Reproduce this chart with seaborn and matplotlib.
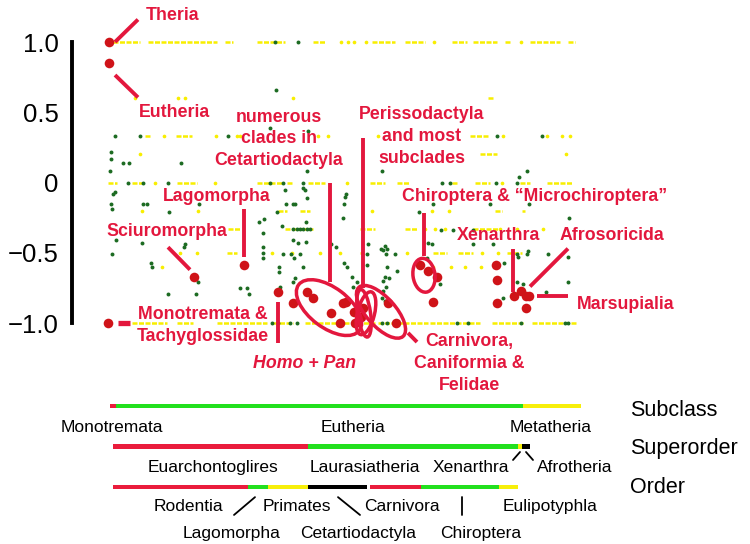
import matplotlib
matplotlib.use('Agg')
import matplotlib.pyplot as plt
import matplotlib.transforms as mtransforms
from matplotlib.patches import Ellipse
import seaborn as sns

################################################################################
# data: x = node rank, y = correlation

yellow_levels = [1.0, 0.6, 0.33, 0.2, 0.0, -0.2, -0.33, -0.5, -0.6, -1.0]

# dense runs of yellow nodes per level (start rank, end rank)
runs_p100 = [(5, 32), (40, 109), (117, 125), (149, 177), (205, 217), (264, 287),
             (297, 317), (344, 359), (365, 389), (397, 402), (422, 452), (460, 467)]
runs_p060 = [(380, 386)]
runs_p033 = [(37, 42), (68, 84), (362, 380)]
runs_p020 = [(372, 389)]
runs_000 = [(0, 9), (24, 35), (69, 89), (149, 175), (179, 185), (200, 217),
            (262, 277), (289, 302), (344, 350), (367, 382), (412, 422), (439, 464)]
runs_m020 = [(170, 179), (192, 202), (387, 394), (414, 417)]
runs_m033 = [(120, 132), (177, 205), (252, 267), (297, 310), (365, 390)]
runs_m050 = [(119, 129), (252, 255), (325, 339), (350, 365), (399, 414)]
runs_m060 = []
runs_m100 = [(24, 59), (69, 85), (109, 159), (165, 185), (197, 267), (270, 320),
             (322, 372), (384, 415), (424, 469)]

# single yellow nodes per level
dots_p100 = [233, 240, 246, 258, 326, 413]
dots_p060 = [27, 70, 77, 185]
dots_p033 = [56, 108, 129, 132, 210, 220, 270, 395, 439, 454, 462]
dots_p020 = [32, 458]
dots_000 = [47, 107, 239, 394]
dots_m020 = [34, 90, 264, 324, 341]
dots_m033 = [317, 327, 337, 392, 409, 435]
dots_m050 = [72, 89, 164, 184, 212, 232, 299, 374, 390]
dots_m060 = [54, 325, 343, 357, 373]
dots_m100 = []

yellow_runs = [runs_p100, runs_p060, runs_p033, runs_p020, runs_000,
               runs_m020, runs_m033, runs_m050, runs_m060, runs_m100]
yellow_dots = [dots_p100, dots_p060, dots_p033, dots_p020, dots_000,
               dots_m020, dots_m033, dots_m050, dots_m060, dots_m100]

green_points = [
    (167, 1.0), (190, 1.0), (168, 0.66), (162, 0.39), (200, 0.37),
    (7, 0.33), (32, 0.33), (120, 0.33), (389, 0.33), (434, 0.33),
    (3, 0.22), (3, 0.17), (15, 0.14), (21, 0.14), (73, 0.14), (2, 0.08),
    (199, 0.08), (274, 0.08), (411, 0.04), (419, 0.08),
    (20, 0.0), (35, 0.0), (60, 0.0), (162, 0.0), (175, 0.0), (195, 0.0),
    (334, 0.0), (342, 0.0), (388, 0.0), (409, 0.0),
    (7, -0.07), (5, -0.08), (3, -0.15), (35, -0.15), (39, -0.15), (4, -0.19),
    (61, -0.21), (91, -0.15), (8, -0.41), (34, -0.43), (4, -0.51), (77, -0.44),
    (76, -0.46), (43, -0.57), (44, -0.60), (60, -0.79), (88, -0.79), (90, -0.71),
    (132, -0.75), (139, -0.75), (141, -0.79), (151, -0.28), (156, -0.26),
    (155, -0.36), (155, -0.46), (155, -0.50), (155, -0.54), (169, -0.21),
    (178, -0.15), (185, -0.15), (187, -0.15), (174, -0.31), (185, -0.41),
    (190, -0.43), (198, -0.42), (175, -0.51), (183, -0.51), (192, -0.51),
    (186, -0.54), (171, -0.60), (171, -0.64), (187, -0.68), (185, -0.71),
    (195, -0.60), (198, -0.28), (177, -0.05), (197, -0.05), (195, -0.04),
    (199, -0.11), (172, -0.74), (185, -0.33), (189, -0.33), (192, -0.33),
    (195, -0.33), (199, -0.33), (202, -0.33),
    (238, -0.08), (237, -0.10), (236, -0.15), (235, -0.25), (223, -0.44),
    (228, -0.46), (236, -0.57), (239, -0.60), (244, -0.67), (249, -0.71),
    (245, -0.74), (260, -0.44), (259, -0.51), (259, -0.59), (273, -0.47),
    (277, -0.45), (279, -0.47), (275, -0.48), (278, -0.51), (287, -0.51),
    (279, -0.60), (277, -0.67), (281, -0.68), (275, -0.70), (289, -0.63),
    (278, -0.74), (275, -0.77), (274, -0.82), (277, -0.84),
    (311, -0.21), (325, -0.15), (382, -0.15), (421, -0.15), (461, -0.25),
    (333, -0.34), (345, -0.34), (365, -0.34), (365, -0.44), (324, -0.44),
    (385, -0.44), (320, -0.43), (319, -0.54), (409, -0.51), (419, -0.51),
    (440, -0.51), (330, -0.68), (332, -0.72), (415, -0.72), (460, -0.71),
    (438, -0.78), (395, -0.82), (460, -0.53), (410, -0.53), (396, -0.57),
    (420, -0.49), (409, -0.71),
    (164, -1.0), (170, -1.0), (182, -1.0), (189, -1.0), (274, -1.0),
    (279, -1.0), (349, -1.0), (360, -1.0), (413, -1.0), (457, -1.0), (460, -1.0),
]

red_points = [
    (1, 1.0), (1, 0.85), (0, -1.0), (86, -0.67), (136, -0.59), (170, -0.78),
    (185, -0.86), (199, -0.78), (205, -0.82), (223, -0.93), (232, -1.0),
    (235, -0.86), (238, -0.85), (246, -0.92), (247, -1.0), (253, -0.96),
    (255, -0.89), (280, -0.86), (288, -1.0), (312, -0.59), (320, -0.63),
    (329, -0.67), (325, -0.85), (388, -0.59), (389, -0.69), (389, -0.86),
    (406, -0.81), (413, -0.77), (418, -0.81), (421, -0.81), (418, -0.89),
]

y_ticks = [1.0, 0.5, 0.0, -0.5, -1.0]
y_tick_labels = ['1.0', '0.5', '0', '\u22120.5', '\u22121.0']

# taxonomy bars below the plot: (start rank, end rank, colour)
subclass_bars = [(2, 8, 'red'), (8, 415, 'green'), (415, 473, 'yellow')]
superorder_bars = [(5, 200, 'red'), (200, 410, 'green'), (410, 414, 'yellow'),
                   (414, 422, 'black')]
order_bars = [(5, 140, 'red'), (140, 160, 'green'), (160, 200, 'yellow'),
              (200, 259, 'black'), (262, 313, 'red'), (313, 391, 'green'),
              (391, 410, 'yellow')]

subclass_names = ['Monotremata', 'Eutheria', 'Metatheria']
subclass_name_x = [4, 245, 443]
superorder_names = ['Euarchontoglires', 'Laurasiatheria', 'Xenarthra', 'Afrotheria']
superorder_name_x = [105, 257, 363, 467]
order_names_top = ['Rodentia', 'Primates', 'Carnivora', 'Eulipotyphla']
order_names_top_x = [80, 189, 294, 442]
order_names_bottom = ['Lagomorpha', 'Cetartiodactyla', 'Chiroptera']
order_names_bottom_x = [124, 250, 373]

################################################################################

RED_TXT = '#e3173d'
RED_DOT = '#cf1318'
GREEN = '#1c6b22'
YELLOW = '#f8ee00'
BAR_COLORS = {'red': '#ea1c3c', 'green': '#22e01e', 'yellow': '#f7ef0a', 'black': '#000000'}

sns.set_style('white')
plt.rcParams['font.family'] = ['Liberation Sans', 'DejaVu Sans']

fig = plt.figure(figsize=(7.5, 5.44), dpi=100)
ax = fig.add_axes([0.096, 0.2904, 0.904, 0.7096])
ax.set_xlim(-36, 642)
ax.set_ylim(-1.448, 1.299)

# yellow nodes
for level, runs, dots in zip(yellow_levels, yellow_runs, yellow_dots):
    if runs:
        ax.hlines([level] * len(runs), [r[0] for r in runs], [r[1] for r in runs],
                  color=YELLOW, lw=1.8, linestyles=[(0, (2.0, 0.6))], zorder=2)
    if dots:
        sns.scatterplot(x=dots, y=[level] * len(dots), ax=ax, color=YELLOW,
                        s=7, linewidth=0, zorder=2, legend=False)

sns.scatterplot(x=[p[0] for p in green_points], y=[p[1] for p in green_points],
                ax=ax, color=GREEN, s=8, linewidth=0, zorder=3, legend=False)
sns.scatterplot(x=[p[0] for p in red_points], y=[p[1] for p in red_points],
                ax=ax, color=RED_DOT, s=48, linewidth=0, zorder=5, legend=False)

# axis styling
for side in ['top', 'right', 'bottom']:
    ax.spines[side].set_visible(False)
ax.spines['left'].set_linewidth(2.8)
ax.spines['left'].set_color('black')
ax.spines['left'].set_bounds(-1, 1)
ax.set_xticks([])
ax.set_yticks(y_ticks)
ax.set_yticklabels(y_tick_labels)
ax.tick_params(axis='y', length=4.5, width=2.4, pad=5.0, labelsize=18.5,
               color='black', labelcolor='black')

# annotation connector lines
connectors = [
    ((7, 30), (1.0, 1.16)), ((7, 30), (0.765, 0.606)),
    ((136, 136), (-0.19, -0.53)), ((60, 82), (-0.46, -0.62)),
    ((170, 170), (-0.85, -1.14)), ((222, 222), (0.0, -0.71)),
    ((255, 255), (0.32, -0.75)), ((316, 316), (-0.22, -0.52)),
    ((405, 405), (-0.47, -0.78)), ((422, 460), (-0.74, -0.47)),
    ((429, 460), (-0.81, -0.81)), ((300, 309), (-1.07, -1.135)),
]
for xs, ys in connectors:
    ax.plot(xs, ys, color=RED_TXT, lw=2.8, solid_capstyle='butt', zorder=6, clip_on=False)
ax.plot([10, 22], [-1.0, -1.0], color=RED_TXT, lw=3.8, solid_capstyle='butt', zorder=6)

# ellipses around clusters (size in inches, centre in data)
ellipses = [((221, -0.89), 0.76, 0.40, -37), ((273, -0.92), 0.66, 0.29, -48),
            ((256, -0.93), 0.13, 0.48, 8), ((258, -0.93), 0.17, 0.44, -14),
            ((316, -0.66), 0.22, 0.34, 8)]
for (cx, cy), w, h, ang in ellipses:
    tr = fig.dpi_scale_trans + mtransforms.ScaledTranslation(cx, cy, ax.transData)
    ax.add_patch(Ellipse((0, 0), w, h, angle=ang, transform=tr, fill=False,
                         edgecolor=RED_TXT, lw=2.5, zorder=6, clip_on=False))

lab = dict(color=RED_TXT, fontsize=12.8, fontweight='bold', zorder=7,
           linespacing=1.38, clip_on=False)
ax.text(38, 1.19, 'Theria', ha='left', va='center', **lab)
ax.text(31, 0.50, 'Eutheria', ha='left', va='center', **lab)
ax.text(171, 0.31, 'numerous\nclades in\nCetartiodactyla', ha='center', va='center', **lab)
ax.text(314, 0.33, 'Perissodactyla\nand most\nsubclades', ha='center', va='center', **lab)
ax.text(109, -0.10, 'Lagomorpha', ha='center', va='center', **lab)
ax.text(59, -0.35, 'Sciuromorpha', ha='center', va='center', **lab)
ax.text(95, -1.02, 'Monotremata &\nTachyglossidae', ha='center', va='center', **lab)
ax.text(197, -1.285, 'Homo + Pan', ha='center', va='center', style='italic', **lab)
ax.text(361, -1.29, 'Carnivora,\nCaniformia &\nFelidae', ha='center', va='center', **lab)
ax.text(427, -0.096, 'Chiroptera & \u201cMicrochiroptera\u201d', ha='center', va='center', **lab)
ax.text(391, -0.38, 'Xenarthra', ha='center', va='center', **lab)
ax.text(504, -0.38, 'Afrosoricida', ha='center', va='center', **lab)
ax.text(469, -0.87, 'Marsupialia', ha='left', va='center', **lab)

################################################################################
# taxonomy bars

ax2 = fig.add_axes([0.096, 0.0, 0.904, 0.2831])
ax2.set_xlim(-36, 642)
ax2.set_ylim(3.407, -0.395)
ax2.axis('off')

for row, bars in enumerate([subclass_bars, superorder_bars, order_bars]):
    ax2.barh([row] * len(bars), [b[1] - b[0] for b in bars], left=[b[0] for b in bars],
             height=0.12, color=[BAR_COLORS[b[2]] for b in bars], linewidth=0)

blk = dict(color='black', fontsize=12.5, ha='center', va='center')
for name, x in zip(subclass_names, subclass_name_x):
    ax2.text(x, 0.54, name, **blk)
for name, x in zip(superorder_names, superorder_name_x):
    ax2.text(x, 1.51, name, **blk)
for name, x in zip(order_names_top, order_names_top_x):
    ax2.text(x, 2.49, name, **blk)
for name, x in zip(order_names_bottom, order_names_bottom_x):
    ax2.text(x, 3.16, name, **blk)

for name, y in zip(['Subclass', 'Superorder', 'Order'], [0.1, 1.04, 2.02]):
    ax2.text(522, y, name, color='black', fontsize=15.5, ha='left', va='center')

ticks = [((405, 412), (1.333, 1.136)), ((418, 425), (1.136, 1.333)),
         ((147, 126), (2.25, 2.69)), ((230, 252), (2.25, 2.69)),
         ((354, 354), (2.25, 2.69))]
for xs, ys in ticks:
    ax2.plot(xs, ys, color='black', lw=1.3)

fig.savefig('out.png', dpi=100)
